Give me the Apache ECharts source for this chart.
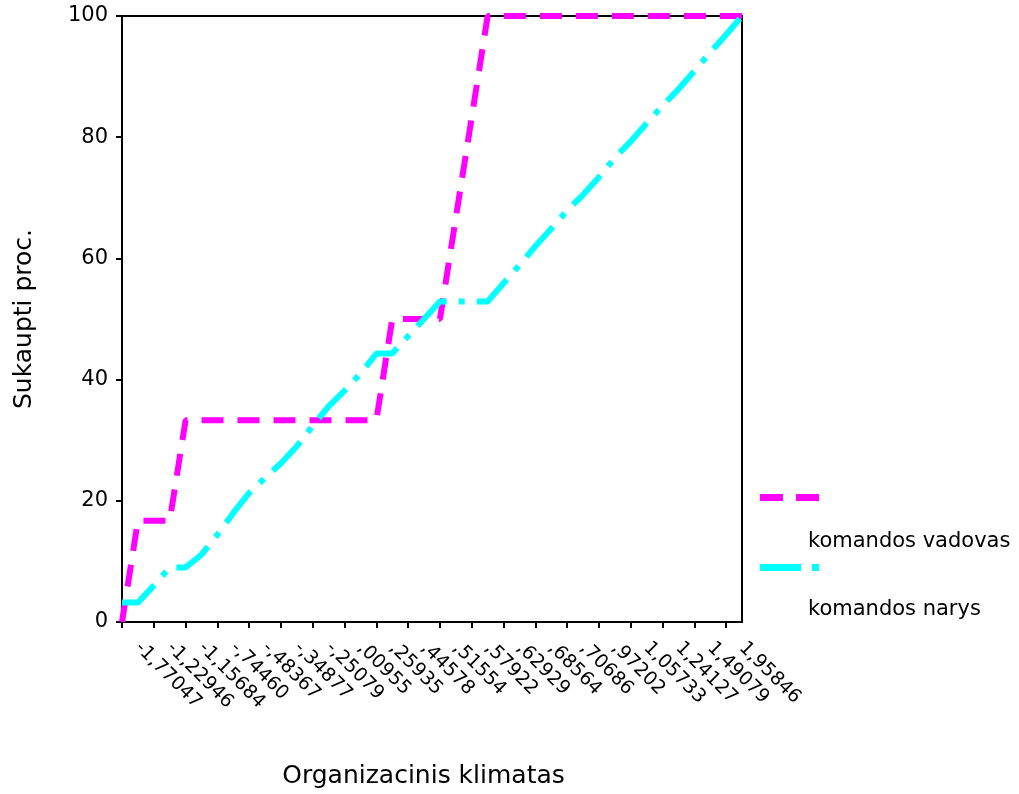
<!DOCTYPE html>
<html>
<head>
<meta charset="utf-8">
<script src="https://cdn.jsdelivr.net/npm/echarts@6/dist/echarts.min.js"></script>
<style>
  html, body { margin: 0; padding: 0; background: #fff; }
  #chart { width: 1019px; height: 794px; }
</style>
</head>
<body>
<div id="chart"></div>
<script>
// only every second category value is printed on the original axis
const tickLabels = [
  "-1,77047", "-1,22946", "-1,15684", "-,74460", "-,48367",
  "-,34877", "-,25079", ",00955", ",25935", ",44578",
  ",51554", ",57922", ",62929", ",68564", ",70686",
  ",97202", "1,05733", "1,24127", "1,49079", "1,95846"
];
const categories = [];
tickLabels.forEach(function (t) {
  categories.push("");
  categories.push(t);
});

const seriesNames = ["komandos vadovas", "komandos narys"];

// cumulative percent, one value per category
const vadovas = [
  0, 16.7, 16.7, 16.7, 33.3, 33.3, 33.3, 33.3, 33.3, 33.3,
  33.3, 33.3, 33.3, 33.3, 33.3, 33.3, 33.3, 50, 50, 50,
  50, 66.7, 83.3, 100, 100, 100, 100, 100, 100, 100,
  100, 100, 100, 100, 100, 100, 100, 100, 100, 100
];
const narys = [
  3.2, 3.2, 6.0, 9.0, 9.0, 11.1, 14.4, 18.0, 21.3, 23.8,
  26.2, 29.0, 32.4, 35.6, 38.2, 41.0, 44.3, 44.3, 47.2, 50.0,
  52.9, 52.9, 52.9, 52.9, 55.9, 58.9, 62.0, 64.9, 67.9, 70.5,
  73.4, 76.6, 79.3, 82.3, 85.2, 87.9, 90.9, 94.0, 96.9, 100
];

const font = "DejaVu Sans";
const chart = echarts.init(document.getElementById("chart"));

const option = {
  animation: false,
  backgroundColor: "#fff",
  grid: {
    left: 122,
    right: 277,
    top: 16,
    bottom: 172,
    show: true,
    borderColor: "#000",
    borderWidth: 2,
    outerBoundsMode: "none",
  },
  legend: [
    {
      orient: "vertical",
      left: 760,
      top: 494,
      padding: 0,
      itemWidth: 59,
      itemHeight: 7,
      itemGap: 63,
      selectedMode: false,
      itemStyle: { borderWidth: 0 },
      textStyle: { fontSize: 1 },
      formatter: () => "",
      data: [
        { name: seriesNames[0], icon: "path://M0,0H23V7H0Z M36,0H59V7H36Z" },
        { name: seriesNames[1], icon: "path://M0,0H41V7H0Z M52,0H59V7H52Z" },
      ],
    },
    {
      orient: "vertical",
      left: 802,
      top: 531,
      padding: 0,
      itemWidth: 1,
      itemHeight: 20,
      itemGap: 47,
      selectedMode: false,
      icon: "none",
      textStyle: { fontFamily: font, fontSize: 21, color: "#000" },
      data: seriesNames,
    },
  ],
  xAxis: {
    type: "category",
    boundaryGap: false,
    data: categories,
    name: "Organizacinis klimatas",
    nameLocation: "middle",
    nameGap: 142,
    nameTextStyle: {
      fontFamily: font,
      fontSize: 25,
      color: "#000",
      padding: [0, 17, 0, 0],
    },
    axisLine: { lineStyle: { color: "#000", width: 2 } },
    axisTick: {
      length: 6,
      interval: (index) => index % 2 === 0,
      lineStyle: { color: "#000", width: 2 },
    },
    axisLabel: {
      interval: (index) => index % 2 === 1,
      rotate: -45,
      margin: 23,
      fontFamily: font,
      fontSize: 19,
      color: "#000",
    },
    splitLine: { show: false },
  },
  yAxis: {
    type: "value",
    min: 0,
    max: 100,
    interval: 20,
    name: "Sukaupti proc.",
    nameLocation: "middle",
    nameGap: 85,
    nameRotate: 90,
    nameTextStyle: { fontFamily: font, fontSize: 25, color: "#000" },
    axisLine: { show: true, lineStyle: { color: "#000", width: 2 } },
    axisTick: { show: true, length: 6, lineStyle: { color: "#000", width: 2 } },
    axisLabel: { margin: 14, fontFamily: font, fontSize: 21, color: "#000" },
    splitLine: { show: false },
  },
  series: [
    {
      name: seriesNames[0],
      type: "line",
      data: vadovas,
      symbol: "none",
      clip: false,
      color: "#FF00FF",
      itemStyle: { color: "#FF00FF" },
      lineStyle: { color: "#FF00FF", width: 6, type: [22, 14], cap: "butt" },
    },
    {
      name: seriesNames[1],
      type: "line",
      data: narys,
      symbol: "none",
      clip: false,
      color: "#00FFFF",
      itemStyle: { color: "#00FFFF" },
      lineStyle: { color: "#00FFFF", width: 6, type: [40, 12, 6, 12], cap: "butt" },
    },
  ],
};

chart.setOption(option);
</script>
</body>
</html>
